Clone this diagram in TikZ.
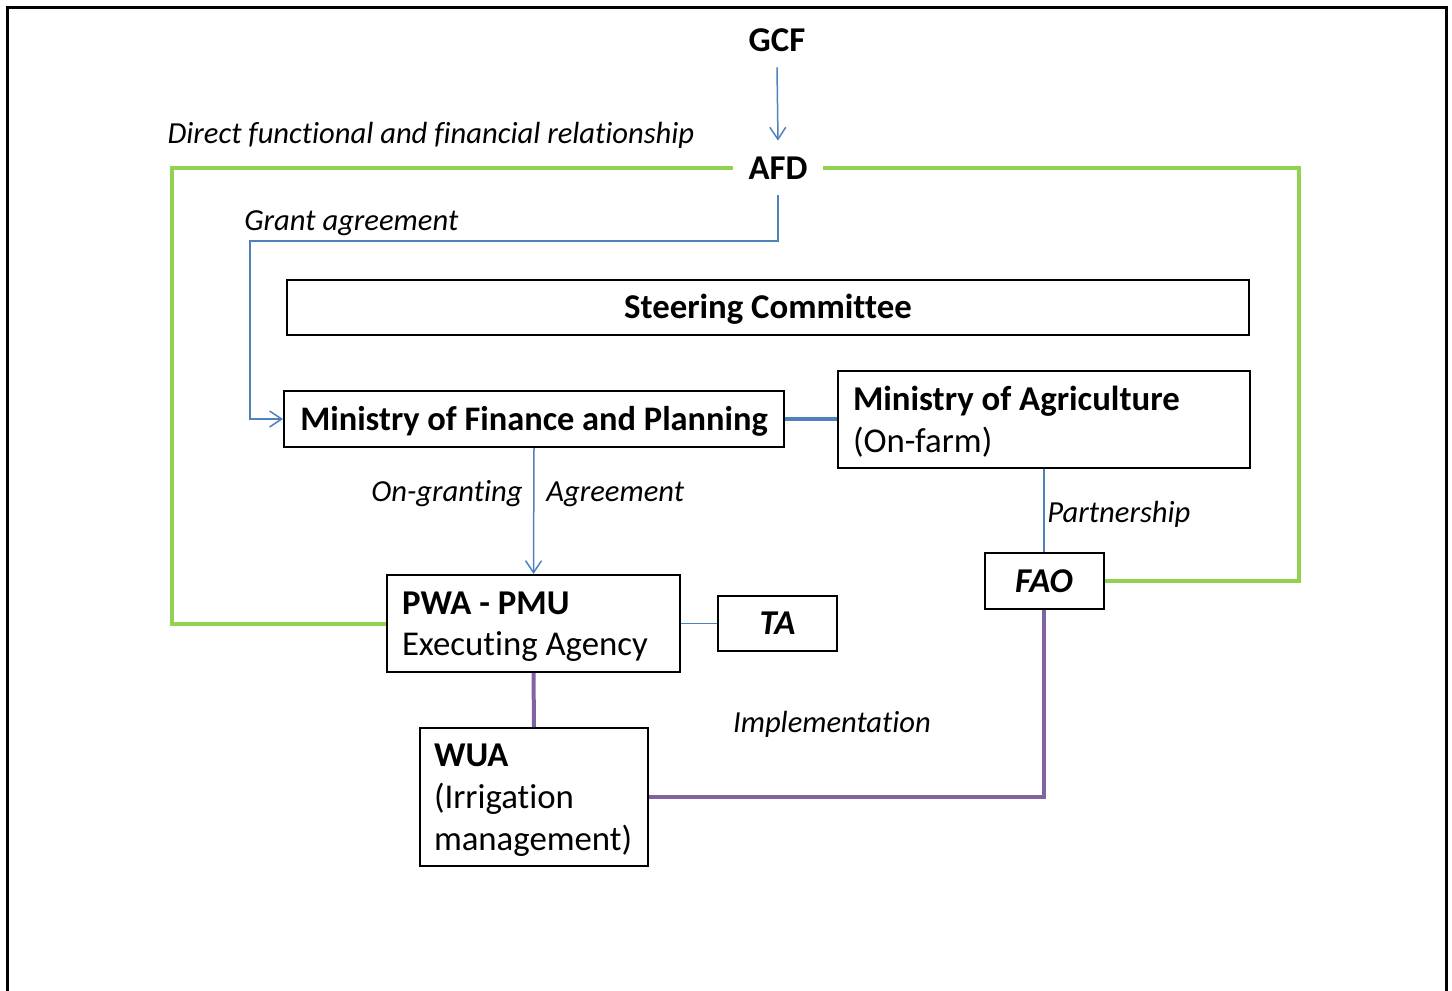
\documentclass[tikz,border=0pt]{standalone}
\usepackage{fontspec}
\setmainfont{Carlito}[Ligatures=CommonOff]
\usetikzlibrary{arrows.meta}
\definecolor{lblue}{RGB}{79,129,189}
\definecolor{lgreen}{RGB}{146,208,80}
\definecolor{lpurple}{RGB}{128,100,162}
\newcommand\mytopstrut{\rule{0pt}{14.5pt}}
\tikzset{
  big/.style={font=\fontsize{17.4}{20.8}\selectfont},
  bigb/.style={font=\fontsize{17.4}{20.8}\selectfont\bfseries, text height=12.9pt, text depth=1.7pt},
  lbl/.style={font=\fontsize{15.3}{18}\selectfont\itshape, inner sep=0pt, text height=11.3pt, text depth=1.5pt},
  box/.style={draw=black, line width=1pt, inner ysep=0pt, fill=white},
  bluearrow/.style={draw=lblue, line width=0.75pt, -{Straight Barb[length=6pt,width=8pt]}},
  blueline/.style={draw=lblue, line width=0.75pt},
  greenline/.style={draw=lgreen, line width=2pt},
  purpleline/.style={draw=lpurple, line width=2pt},
}
\begin{document}
\begin{tikzpicture}[x=0.5pt,y=-0.5pt]
\useasboundingbox (0,0) rectangle (1452,991);
\draw[line width=1.5pt] (7,1000) -- (7,7) -- (1446,7) -- (1446,1000);
% nodes
\node[bigb, minimum height=27pt, inner sep=0pt] (GCF) at (777,40) {GCF};
\node[bigb, minimum height=27pt, inner xsep=7.5pt, inner ysep=0pt] (AFD) at (778,168) {AFD};
\node[box, bigb, minimum width=481pt, minimum height=27.5pt] (SC) at (768,307.5) {Steering Committee};
\node[box, bigb, minimum width=250pt, minimum height=28pt, font=\fontsize{17.2}{20.8}\selectfont\bfseries] (MoFP) at (534,419) {Ministry of Finance and Planning};
\node[box, big, text width=191pt, inner xsep=7.5pt, minimum height=48.5pt, align=flush left] (MoA) at (1044,419.5) {\mytopstrut\textbf{Ministry of Agriculture}\\(On-farm)};
\node[box, big, text width=131.5pt, inner xsep=7.5pt, minimum height=48.5pt, align=flush left] (PWA) at (533.5,623.5) {\mytopstrut\textbf{PWA - PMU}\\Executing Agency};
\node[box, bigb, minimum width=59.5pt, minimum height=27.5pt, font=\fontsize{17.4}{20.8}\selectfont\bfseries\itshape] (TA) at (777.5,623.5) {TA};
\node[box, bigb, minimum width=59.5pt, minimum height=28pt, font=\fontsize{17.4}{20.8}\selectfont\bfseries\itshape] (FAO) at (1044,581) {FAO};
\node[box, big, text width=100pt, inner xsep=7pt, minimum height=69pt, align=flush left] (WUA) at (534,797) {\mytopstrut\textbf{WUA}\\(Irrigation\\management)};
% labels
\node[lbl] (l1) at (431,134) {Direct functional and financial relationship};
\node[lbl, anchor=west] (l2) at (244,221) {Grant agreement};
\node[lbl, anchor=east] (l3) at (523,492) {On-granting};
\node[lbl, anchor=west] (l4) at (546,492) {Agreement};
\node[lbl, anchor=west] (l5) at (1047,513) {Partnership};
\node[lbl] (l6) at (832,723) {Implementation};
% coordinates
\coordinate (gl) at (172,168);
\coordinate (gr) at (1299,168);
\coordinate (gc) at (250,241);
% connectors
\draw[bluearrow] (GCF.south) -- (AFD.north);
\draw[bluearrow] (AFD.south) |- (gc) |- (MoFP.west);
\draw[bluearrow] (MoFP.south) -- (PWA.north);
\draw[draw=lblue, line width=2pt] (MoFP.east) -- (MoFP.east -| MoA.west);
\draw[blueline] (PWA.east) -- (TA.west);
\draw[blueline] (MoA.south) -- (FAO.north);
\draw[greenline] (AFD.west) -- (gl) |- (PWA.west);
\draw[greenline] (AFD.east) -- (gr) |- (FAO.east);
\draw[purpleline] (PWA.south) -- (WUA.north);
\draw[purpleline] (FAO.south) |- (WUA.east);
\end{tikzpicture}
\end{document}
